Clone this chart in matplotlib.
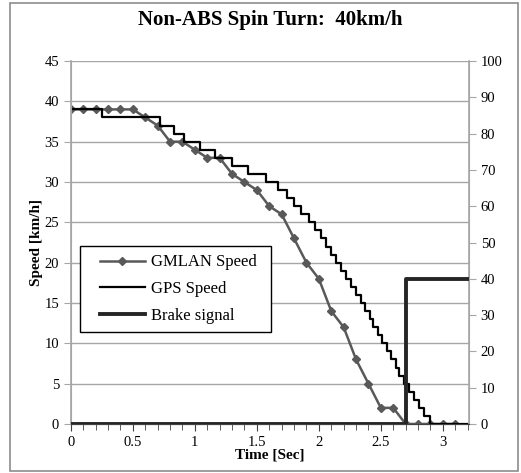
import numpy as np
import matplotlib
matplotlib.use("Agg")
import matplotlib.pyplot as plt
from matplotlib.patches import Rectangle
from matplotlib.lines import Line2D
from matplotlib.legend_handler import HandlerLine2D
from matplotlib.ticker import MultipleLocator

plt.rcParams['font.family'] = ['Liberation Serif', 'DejaVu Serif']

# GMLAN speed, sampled every 0.1 s
gmlan_time = [0.0, 0.1, 0.2, 0.3, 0.4, 0.5, 0.6, 0.7, 0.8, 0.9, 1.0, 1.1, 1.2, 1.3, 1.4, 1.5,
              1.6, 1.7, 1.8, 1.9, 2.0, 2.1, 2.2, 2.3, 2.4, 2.5, 2.6, 2.7, 2.8, 2.9, 3.0, 3.1]
gmlan_speed = [39, 39, 39, 39, 39, 39, 38, 37, 35, 35, 34, 33, 33, 31, 30, 29,
               27, 26, 23, 20, 18, 14, 12, 8, 5, 2, 2, 0, 0, 0, 0, 0]

# GPS speed (step changes)
gps_time = [0.00, 0.25, 0.72, 0.835, 0.915, 1.04, 1.165, 1.30, 1.43, 1.57, 1.67,
            1.74, 1.80, 1.86, 1.92, 1.97, 2.02, 2.06, 2.10, 2.14, 2.18, 2.22, 2.26,
            2.30, 2.34, 2.37, 2.41, 2.44, 2.48, 2.51, 2.55, 2.58, 2.62, 2.65, 2.69,
            2.73, 2.77, 2.81, 2.85, 2.90, 3.20]
gps_speed = [39, 38, 37, 36, 35, 34, 33, 32, 31, 30, 29,
             28, 27, 26, 25, 24, 23, 22, 21, 20, 19, 18, 17,
             16, 15, 14, 13, 12, 11, 10, 9, 8, 7, 6, 5,
             4, 3, 2, 1, 0, 0]

# brake signal on secondary axis
brake_time = [0.0, 2.7, 3.2]
brake_value = [0, 40, 40]

grid_c = '#a6a6a6'

fig = plt.figure(figsize=(5.21, 4.73), dpi=100)
fig.patches.append(Rectangle((0.02, 0.004), 0.975, 0.99, transform=fig.transFigure,
                             fill=False, edgecolor='#8c8c8c', linewidth=1.2))

ax = fig.add_axes([0.136, 0.1036, 0.764, 0.7674])
ax2 = ax.twinx()

ax.plot(gmlan_time, gmlan_speed, color='#595959', linewidth=1.8, marker='D',
        markersize=4.5, label='GMLAN Speed', zorder=3)
ax.plot(gps_time, gps_speed, color='black', linewidth=1.6, drawstyle='steps-post',
        label='GPS Speed', zorder=4)
ax2.plot(brake_time, brake_value, color='#262626', linewidth=2.8, drawstyle='steps-post',
         label='Brake signal', zorder=5)

ax.set_xlim(0, 3.21)
ax.set_ylim(0, 45)
ax2.set_ylim(0, 100)
ax.xaxis.set_minor_locator(MultipleLocator(0.1))
ax.set_xticks([0, 0.5, 1, 1.5, 2, 2.5, 3])
ax.set_xticklabels(['0', '0.5', '1', '1.5', '2', '2.5', '3'])
ax.yaxis.set_major_locator(MultipleLocator(5))
ax2.yaxis.set_major_locator(MultipleLocator(10))

ax.grid(axis='y', color=grid_c, linewidth=1.0)
ax.set_axisbelow(True)
for a in (ax, ax2):
    a.spines['top'].set_visible(False)
    a.spines['left'].set_color(grid_c)
    a.spines['right'].set_color(grid_c)
    a.spines['bottom'].set_color('#404040')
    a.tick_params(colors='#404040', labelcolor='black', labelsize=10.5)
ax.spines['left'].set_linewidth(1.2)
ax2.spines['right'].set_linewidth(1.2)
ax.tick_params(axis='y', length=5, color=grid_c)
ax2.tick_params(axis='y', length=5, color=grid_c)
ax.tick_params(axis='x', which='major', length=5, color='#404040')
ax.tick_params(axis='x', which='minor', length=4, color='#404040')

ax.set_xlabel('Time [Sec]', fontweight='bold', fontsize=11, labelpad=0)
ax.set_ylabel('Speed [km/h]', fontweight='bold', fontsize=11, labelpad=1)
fig.text(0.518, 0.958, 'Non-ABS Spin Turn:  40km/h', ha='center', va='center',
         fontsize=15, fontweight='bold')

h1, l1 = ax.get_legend_handles_labels()
h2, l2 = ax2.get_legend_handles_labels()
leg = ax2.legend(h1 + h2, l1 + l2, loc='upper left', bbox_to_anchor=(0.0226, 0.49, 0.48, 0.0),
                 mode='expand', fontsize=12, frameon=True, fancybox=False, edgecolor='black',
                 framealpha=1, borderpad=0.5, labelspacing=0.65, handlelength=3.4,
                 handletextpad=0.35, borderaxespad=0,
                 handler_map={Line2D: HandlerLine2D(xpad=0.7)})
leg.get_frame().set_linewidth(1.0)

fig.savefig('out.png', dpi=100)
